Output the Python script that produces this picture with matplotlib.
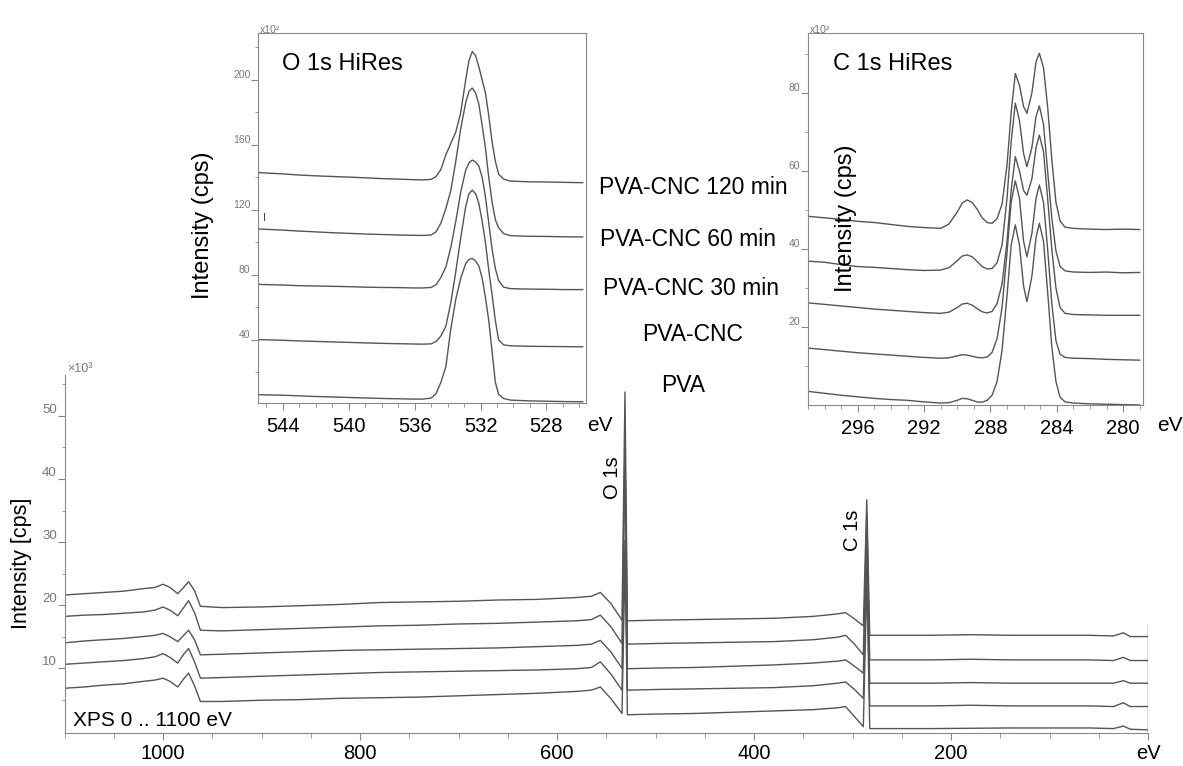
import numpy as np
import matplotlib.pyplot as plt

plt.rcParams['font.family'] = ['Liberation Sans', 'DejaVu Sans']

# sample names, bottom to top
samples = ['PVA', 'PVA-CNC', 'PVA-CNC 30 min', 'PVA-CNC 60 min', 'PVA-CNC 120 min']

# survey scan: binding energy (eV) and intensity (x10^3 cps)
survey_ev = [1100, 1080, 1060, 1040, 1020, 1008, 1000, 993, 985, 979, 974, 968, 962,
             940, 900, 860, 820, 780, 740, 700, 660, 620, 580, 565, 556, 545, 534,
             531, 528.5, 500, 460, 420, 380, 340, 315, 307, 298, 289, 285.5, 282.5,
             260, 220, 180, 140, 100, 60, 35, 25, 18, 0]
survey_pva = [6.8, 7.0, 7.3, 7.5, 7.9, 8.1, 8.4, 7.9, 7.0, 8.3, 9.2, 7.2, 4.7,
              4.7, 4.9, 5.0, 5.2, 5.3, 5.4, 5.6, 5.8, 6.0, 6.3, 6.5, 7.0, 5.1, 2.8,
              27.6, 2.6, 2.7, 2.8, 3.0, 3.2, 3.4, 3.7, 3.9, 2.3, 0.7, 24.0, 0.4,
              0.4, 0.4, 0.45, 0.5, 0.5, 0.5, 0.4, 0.8, 0.3, 0.2]
survey_cnc = [10.6, 10.8, 11.0, 11.2, 11.5, 11.8, 12.3, 11.7, 10.8, 12.2, 13.1, 11.0, 8.4,
              8.5, 8.7, 8.9, 9.1, 9.3, 9.4, 9.5, 9.6, 9.7, 9.9, 10.1, 11.0, 9.0, 6.5,
              30.3, 6.5, 6.6, 6.7, 6.8, 6.9, 7.2, 7.6, 7.8, 6.6, 5.2, 27.5, 4.0,
              4.0, 4.0, 4.1, 4.0, 4.0, 4.0, 3.9, 4.5, 3.9, 3.9]
survey_30 = [14.0, 14.3, 14.5, 14.7, 15.0, 15.2, 15.5, 15.0, 14.2, 15.2, 16.0, 14.5, 12.1,
             12.2, 12.4, 12.6, 12.8, 12.9, 13.0, 13.1, 13.2, 13.4, 13.6, 13.8, 14.4, 12.5, 9.95,
             44.0, 9.9, 10.0, 10.1, 10.3, 10.5, 10.8, 11.1, 11.3, 10.3, 9.2, 31.0, 7.6,
             7.6, 7.6, 7.7, 7.6, 7.6, 7.6, 7.6, 8.0, 7.6, 7.6]
survey_60 = [18.2, 18.4, 18.5, 18.7, 18.9, 19.2, 19.7, 19.2, 18.3, 19.6, 20.7, 18.8, 16.0,
             15.9, 16.1, 16.3, 16.5, 16.7, 16.8, 17.0, 17.1, 17.3, 17.5, 17.7, 18.4, 16.5, 13.9,
             45.4, 13.8, 13.9, 14.0, 14.1, 14.2, 14.5, 14.9, 15.2, 13.8, 12.1, 34.5, 11.3,
             11.3, 11.3, 11.4, 11.3, 11.3, 11.3, 11.2, 11.7, 11.2, 11.2]
survey_120 = [21.6, 21.8, 22.0, 22.2, 22.6, 22.8, 23.3, 22.8, 21.8, 22.8, 23.7, 22.3, 19.8,
              19.6, 19.7, 19.9, 20.1, 20.4, 20.5, 20.6, 20.8, 20.9, 21.2, 21.4, 22.0, 20.2, 17.6,
              53.8, 17.5, 17.6, 17.7, 17.8, 17.9, 18.2, 18.6, 18.8, 17.8, 16.7, 36.7, 15.2,
              15.2, 15.2, 15.3, 15.2, 15.2, 15.2, 15.1, 15.6, 15.0, 15.0]
survey_end = [0.0, 16.9]  # vertical line at 0 eV

# O 1s high resolution (x10^2 cps)
o1s_ev = [545.5, 544, 543, 542, 541, 540, 539, 538, 537, 536,
          535.5, 535, 534.7, 534.4, 534.1, 533.8, 533.5, 533.2, 532.9, 532.7,
          532.5, 532.3, 532.1, 531.9, 531.7, 531.5, 531.3, 531.1, 530.9, 530.6,
          530.2, 529.5, 529, 528, 527, 526, 525.8]
o1s_pva = [6.3, 6.0, 5.6, 5.2, 4.9, 4.6, 4.3, 4.0, 3.8, 3.6,
           3.6, 4.2, 7.0, 14.0, 23.6, 47.0, 65.0, 78.0, 87.0, 89.5,
           90.2, 88.5, 85.5, 78.0, 66.0, 52.0, 33.0, 14.0, 6.5, 4.0,
           3.0, 2.7, 2.5, 2.3, 2.1, 2.0, 2.0]
o1s_cnc = [40.2, 39.8, 39.4, 39.1, 38.8, 38.5, 38.2, 37.9, 37.7, 37.5,
           37.4, 37.6, 39.0, 42.5, 48.5, 63.0, 82.0, 103.0, 122.0, 130.0,
           132.2, 130.0, 124.0, 113.0, 100.0, 83.0, 68.0, 52.0, 40.0, 37.0,
           36.4, 36.2, 36.1, 36.0, 35.9, 35.8, 35.8]
o1s_30 = [74.2, 73.8, 73.4, 73.2, 73.0, 72.8, 72.5, 72.3, 72.2, 72.0,
          72.0, 72.3, 74.0, 78.5, 85.0, 97.0, 113.0, 131.0, 144.5, 149.0,
          150.7, 149.5, 147.0, 140.0, 128.0, 112.0, 96.0, 84.0, 76.5, 72.5,
          71.6, 71.4, 71.3, 71.2, 71.0, 71.0, 71.0]
o1s_60 = [108.3, 107.6, 107.0, 106.5, 106.0, 105.6, 105.2, 104.9, 104.6, 104.4,
          104.3, 104.6, 106.5, 112.0, 121.0, 132.0, 150.0, 170.0, 186.0, 193.0,
          195.0, 192.0, 185.0, 172.0, 158.0, 140.0, 125.0, 114.0, 109.0, 105.5,
          104.2, 103.9, 103.8, 103.7, 103.5, 103.4, 103.4]
o1s_120 = [143.0, 142.2, 141.5, 141.0, 140.6, 140.2, 139.8, 139.3, 139.0, 138.6,
           138.5, 138.8, 140.5, 145.0, 154.0, 161.0, 168.0, 180.0, 200.0, 212.0,
           217.5, 215.0, 208.0, 200.0, 192.0, 178.0, 162.0, 150.0, 142.0, 139.0,
           137.8, 137.5, 137.3, 137.2, 137.0, 136.8, 136.8]

# C 1s high resolution (x10^2 cps)
c1s_ev = [299, 298, 297, 296, 295, 294, 293, 292, 291, 290.5,
          290, 289.7, 289.4, 289.1, 288.8, 288.5, 288.2, 287.9, 287.6, 287.3,
          287.0, 286.75, 286.5, 286.25, 286.0, 285.8, 285.5, 285.25, 285.05, 284.8,
          284.55, 284.3, 284.05, 283.8, 283.5, 283, 282, 281, 280, 279]
c1s_pva = [3.5, 3.0, 2.5, 2.1, 1.7, 1.4, 1.2, 0.8, 0.5, 0.6,
           1.2, 1.7, 1.6, 1.2, 0.8, 0.7, 1.2, 2.5, 6.0, 14.0,
           28.0, 41.0, 46.2, 41.0, 30.5, 26.5, 33.0, 43.0, 46.6, 42.0,
           29.0, 15.0, 6.0, 2.0, 0.8, 0.5, 0.3, 0.2, 0.1, 0.0]
c1s_cnc = [14.6, 14.2, 13.8, 13.4, 13.1, 12.8, 12.5, 12.2, 12.0, 12.1,
           12.6, 12.9, 12.8, 12.5, 12.2, 12.1, 12.3, 13.5, 17.0, 25.0,
           39.0, 52.0, 57.5, 53.0, 42.0, 38.0, 44.0, 53.0, 56.4, 52.0,
           40.0, 26.0, 16.5, 13.0, 12.2, 12.0, 11.9, 11.7, 11.6, 11.5]
c1s_30 = [26.2, 25.8, 25.4, 25.0, 24.6, 24.3, 24.0, 23.7, 23.5, 23.8,
          25.0, 25.9, 26.1, 25.6, 24.7, 23.9, 23.6, 24.0, 26.0, 31.0,
          42.0, 55.0, 63.7, 60.0, 55.0, 53.8, 58.0, 66.0, 69.2, 65.0,
          53.0, 40.0, 30.0, 25.0, 23.5, 23.2, 23.1, 23.0, 23.0, 23.0]
c1s_60 = [36.9, 36.6, 36.0, 35.5, 35.3, 35.0, 34.7, 34.5, 34.6, 35.2,
          37.0, 38.2, 38.5, 38.0, 36.8, 35.5, 34.9, 35.0, 36.5, 41.0,
          53.0, 67.5, 77.4, 73.0, 64.5, 61.1, 66.0, 74.0, 76.7, 72.0,
          60.0, 48.0, 39.5, 35.5, 34.4, 34.1, 34.0, 34.1, 33.9, 34.0]
c1s_120 = [48.4, 48.0, 47.6, 47.1, 46.8, 46.3, 45.8, 45.5, 45.3, 46.4,
           49.5, 51.8, 52.6, 51.9, 50.2, 48.0, 46.8, 46.6, 47.8, 51.5,
           61.5, 75.0, 85.0, 82.0, 76.5, 74.8, 80.0, 88.0, 90.2, 86.5,
           76.5, 63.0, 52.0, 47.2, 45.6, 45.3, 45.1, 45.0, 45.1, 45.0]

W, H = 1183, 766
line_c = '#555555'
axis_c = '#888888'
lab_c = '#777777'


def fx(px):
    return px / W


def fy(py):
    return 1 - py / H


fig = plt.figure(figsize=(W / 100, H / 100), dpi=100)

# main survey
ax = fig.add_axes([fx(64.5), fy(733), (1148 - 64.5) / W, (733 - 375) / H])
for s in [survey_pva, survey_cnc, survey_30, survey_60, survey_120]:
    ax.plot(survey_ev, s, color=line_c, lw=1.0)
ax.plot([0, 0], survey_end, color=line_c, lw=1.0)
ax.set_xlim(1100, 0)
ax.set_ylim(-0.3, 56.5)
ax.spines[['top', 'right']].set_visible(False)
for sp in ['left', 'bottom']:
    ax.spines[sp].set_color(axis_c)
ax.set_xticks([1000, 800, 600, 400, 200, 0])
ax.set_xticklabels(['1000', '800', '600', '400', '200', 'eV'])
ax.set_xticks(np.arange(0, 1101, 50), minor=True)
ax.set_yticks([10, 20, 30, 40, 50])
ax.set_yticks(np.arange(5, 56, 5), minor=True)
ax.tick_params(axis='x', which='major', direction='out', length=5, color=axis_c, labelsize=14.5, pad=3)
ax.tick_params(axis='x', which='minor', direction='out', length=3.5, color=axis_c)
ax.tick_params(axis='y', which='major', direction='out', length=5, color=axis_c, labelsize=9.5,
               labelcolor=lab_c, pad=0.5)
ax.tick_params(axis='y', which='minor', direction='out', length=2.5, color=axis_c)
for t in ax.get_yticklabels():
    t.set_va('bottom')

fig.text(fx(67), fy(369), '×10³', fontsize=9, color=lab_c, ha='left', va='center')
fig.text(fx(22), fy(563), 'Intensity [cps]', rotation=90, fontsize=15.5, ha='center', va='center')
fig.text(fx(73), fy(720), 'XPS 0 .. 1100 eV', fontsize=15, ha='left', va='center')
fig.text(fx(612), fy(478), 'O 1s', rotation=90, fontsize=14.5, ha='center', va='center')
fig.text(fx(853), fy(530), 'C 1s', rotation=90, fontsize=14.5, ha='center', va='center')


def style_inset(a):
    for sp in a.spines.values():
        sp.set_color(axis_c)
    a.tick_params(axis='x', which='major', direction='out', length=5, color=axis_c, labelsize=14.5, pad=5)
    a.tick_params(axis='x', which='minor', direction='out', length=3, color=axis_c)
    a.tick_params(axis='y', which='major', direction='out', length=5, color=axis_c, labelsize=7.5,
                  labelcolor=lab_c, pad=0.5)
    a.tick_params(axis='y', which='minor', direction='out', length=2.5, color=axis_c)
    for t in a.get_yticklabels():
        t.set_va('bottom')


# O 1s inset
axo = fig.add_axes([fx(258), fy(403), (586 - 258) / W, (403 - 33) / H])
for s in [o1s_pva, o1s_cnc, o1s_30, o1s_60, o1s_120]:
    axo.plot(o1s_ev, s, color=line_c, lw=1.0)
axo.set_xlim(545.5, 525.6)
axo.set_ylim(1.2, 228.9)
axo.set_xticks([544, 540, 536, 532, 528])
axo.set_xticks(np.arange(526, 546, 1), minor=True)
axo.set_yticks([40, 80, 120, 160, 200])
axo.set_yticks(np.arange(20, 221, 20), minor=True)
style_inset(axo)
fig.text(fx(282), fy(64), 'O 1s HiRes', fontsize=17, ha='left', va='center')
fig.text(fx(203), fy(225), 'Intensity (cps)', rotation=90, fontsize=17, ha='center', va='center')
fig.text(fx(260), fy(30), 'x10²', fontsize=7.5, color=lab_c, ha='left', va='center')
fig.text(fx(600), fy(425), 'eV', fontsize=15, ha='center', va='center')
fig.text(fx(265), fy(218), 'I', fontsize=8, color='#444444', ha='center', va='center')

# C 1s inset
axc = fig.add_axes([fx(808), fy(405), (1143 - 808) / W, (405 - 33) / H])
for s in [c1s_pva, c1s_cnc, c1s_30, c1s_60, c1s_120]:
    axc.plot(c1s_ev, s, color=line_c, lw=1.0)
axc.set_xlim(299, 278.8)
axc.set_ylim(0, 95.4)
axc.set_xticks([296, 292, 288, 284, 280])
axc.set_xticks(np.arange(279, 300, 1), minor=True)
axc.set_yticks([20, 40, 60, 80])
axc.set_yticks(np.arange(10, 91, 10), minor=True)
style_inset(axc)
fig.text(fx(833), fy(64), 'C 1s HiRes', fontsize=17, ha='left', va='center')
fig.text(fx(846), fy(218), 'Intensity (cps)', rotation=90, fontsize=17, ha='center', va='center')
fig.text(fx(810), fy(30), 'x10²', fontsize=7.5, color=lab_c, ha='left', va='center')
fig.text(fx(1170), fy(425), 'eV', fontsize=15, ha='center', va='center')

# sample labels between the insets
label_xy = [(683, 385), (693, 334), (691, 289), (688, 240), (693, 187)]
for name, (px, py) in zip(samples, label_xy):
    fig.text(fx(px), fy(py), name, fontsize=16.5, ha='center', va='center')

fig.savefig('out.png', dpi=100)
